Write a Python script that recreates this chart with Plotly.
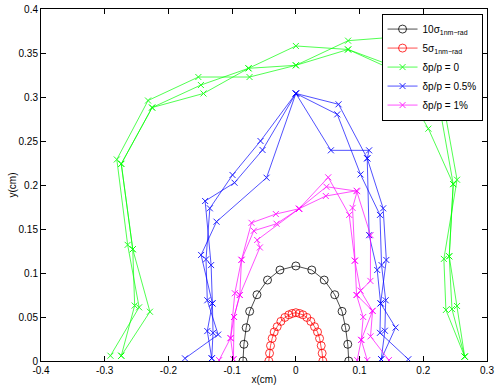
import plotly.graph_objects as go

# 10 sigma (1nm-rad) beam ellipse
sig10_x = [-0.083, -0.0815, -0.078, -0.0725, -0.061, -0.0445, -0.025, 0.0,
           0.025, 0.0445, 0.061, 0.0725, 0.078, 0.0815, 0.083]
sig10_y = [0.0, 0.019, 0.0378, 0.0564, 0.0753, 0.092, 0.1034, 0.108,
           0.1034, 0.092, 0.0753, 0.0564, 0.0378, 0.019, 0.0]

# 5 sigma (1nm-rad) beam ellipse
sig5_x = [-0.0424, -0.0413, -0.0398, -0.0372, -0.034, -0.0293, -0.0235, -0.0173, -0.011, -0.0058, 0.0,
          0.0058, 0.011, 0.0173, 0.0235, 0.0293, 0.034, 0.0372, 0.0398, 0.0413, 0.0424]
sig5_y = [0.0, 0.0088, 0.0174, 0.0257, 0.033, 0.039, 0.045, 0.0495, 0.0525, 0.054, 0.0549,
          0.054, 0.0525, 0.0495, 0.045, 0.039, 0.033, 0.0257, 0.0174, 0.0088, 0.0]

# dynamic aperture, dp/p = 0 (three seeds)
dp0_x = [
    [-0.274, -0.253, -0.256, -0.274, -0.2256, -0.149, -0.0743, 0.0, 0.082, 0.16, 0.226, 0.247, 0.2407, 0.245, 0.265],
    [-0.291, -0.246, -0.264, -0.281, -0.232, -0.153, -0.0727, 0.0, 0.082, 0.19, 0.231, 0.253, 0.2323, 0.2355, 0.265],
    [-0.274, -0.229, -0.256, -0.274, -0.2256, -0.145, -0.0743, 0.0, 0.082, 0.155, 0.208, 0.247, 0.2407, 0.253, 0.265],
]
dp0_y = [
    [0.006, 0.063, 0.127, 0.224, 0.288, 0.3136, 0.3326, 0.358, 0.354, 0.333, 0.287, 0.201, 0.119, 0.059, 0.005],
    [0.006, 0.061, 0.132, 0.229, 0.296, 0.3227, 0.3227, 0.336, 0.364, 0.37, 0.295, 0.206, 0.116, 0.058, 0.005],
    [0.006, 0.056, 0.127, 0.224, 0.288, 0.304, 0.3326, 0.336, 0.354, 0.33, 0.264, 0.201, 0.119, 0.0625, 0.005],
]

# dp/p = 0.5%
dp05_x = [
    [-0.132, -0.13, -0.131, -0.133, -0.1424, -0.0963, -0.0523, 0.0, 0.065, 0.1015, 0.132, 0.1345, 0.141, 0.1397, 0.134],
    [-0.174, -0.122, -0.139, -0.141, -0.135, -0.0994, -0.0555, 0.0, 0.067, 0.112, 0.137, 0.142, 0.133, 0.132, 0.1765],
    [-0.132, -0.139, -0.131, -0.1487, -0.1245, -0.046, 0.0, 0.055, 0.115, 0.112, 0.115, 0.1277, 0.133, 0.1565, 0.134],
]
dp05_y = [
    [0.003, 0.032, 0.0655, 0.109, 0.1818, 0.2026, 0.2398, 0.304, 0.2803, 0.212, 0.166, 0.109, 0.069, 0.0344, 0.002],
    [0.003, 0.030, 0.069, 0.1155, 0.1735, 0.2114, 0.25, 0.304, 0.2917, 0.2303, 0.1735, 0.1148, 0.0655, 0.032, 0.002],
    [0.003, 0.034, 0.0655, 0.1205, 0.1583, 0.2083, 0.304, 0.2394, 0.2394, 0.2303, 0.143, 0.1034, 0.0655, 0.038, 0.002],
]

# dp/p = 1%
dp1_x = [
    [-0.098, -0.1025, -0.097, -0.088, -0.0853, -0.0696, -0.0314, 0.005, 0.048, 0.0963, 0.089, 0.0926, 0.0953, 0.1057, 0.1026, 0.112],
    [-0.1204, -0.1025, -0.0958, -0.0853, -0.066, -0.0303, 0.005, 0.0508, 0.0837, 0.0926, 0.1015, 0.1204, 0.1172, 0.146],
    [-0.098, -0.097, -0.088, -0.0565, -0.0607, 0.005, 0.047, 0.0953, 0.1172, 0.117, 0.0953, 0.1204, 0.1026, 0.0963],
]
dp1_y = [
    [0.002, 0.026, 0.050, 0.075, 0.115, 0.157, 0.167, 0.173, 0.198, 0.193, 0.174, 0.114, 0.075, 0.050, 0.024, 0.001],
    [0.001, 0.026, 0.077, 0.115, 0.148, 0.156, 0.173, 0.2087, 0.166, 0.114, 0.08, 0.057, 0.028, 0.001],
    [0.002, 0.05, 0.075, 0.129, 0.1375, 0.173, 0.1875, 0.1935, 0.143, 0.091, 0.075, 0.057, 0.024, 0.001],
]

x_ticks = [-0.4, -0.3, -0.2, -0.1, 0, 0.1, 0.2, 0.3]
x_labels = ['-0.4', '-0.3', '-0.2', '-0.1', '0', '0.1', '0.2', '0.3']
y_ticks = [0, 0.05, 0.1, 0.15, 0.2, 0.25, 0.3, 0.35, 0.4]
y_labels = ['0', '0.05', '0.1', '0.15', '0.2', '0.25', '0.3', '0.35', '0.4']

fig = go.Figure()

fig.add_trace(go.Scatter(x=sig10_x, y=sig10_y, mode='lines+markers', name='10σ<sub>1nm−rad</sub>',
                         line=dict(color='black', width=0.7),
                         marker=dict(symbol='circle-open', size=8, color='black', line=dict(width=0.8))))
fig.add_trace(go.Scatter(x=sig5_x, y=sig5_y, mode='lines+markers', name='5σ<sub>1nm−rad</sub>',
                         line=dict(color='red', width=0.7),
                         marker=dict(symbol='circle-open', size=8, color='red', line=dict(width=0.8))))

groups = [
    ('δp/p = 0', '#00ff00', dp0_x, dp0_y),
    ('δp/p = 0.5%', '#0000ff', dp05_x, dp05_y),
    ('δp/p = 1%', '#ff00ff', dp1_x, dp1_y),
]
for name, col, xs, ys in groups:
    for i in range(len(xs)):
        fig.add_trace(go.Scatter(x=xs[i], y=ys[i], mode='lines+markers', name=name,
                                 legendgroup=name, showlegend=(i == 0),
                                 line=dict(color=col, width=0.8), opacity=0.85,
                                 marker=dict(symbol='x-thin', size=6, color=col,
                                             line=dict(width=1, color=col))))

axis_style = dict(showgrid=False, zeroline=False, showline=True, mirror='ticks',
                  linecolor='black', linewidth=1, ticks='inside', ticklen=5,
                  tickcolor='black', tickfont=dict(size=10, color='black'),
                  automargin=False)

fig.update_xaxes(range=[-0.4, 0.3], tickvals=x_ticks, ticktext=x_labels,
                 title=dict(text='x(cm)', font=dict(size=10), standoff=0), **axis_style)
fig.update_yaxes(range=[0, 0.4], tickvals=y_ticks, ticktext=y_labels,
                 title=dict(text='y(cm)', font=dict(size=10), standoff=0), **axis_style)

fig.update_layout(
    width=498, height=390,
    margin=dict(l=41, r=11, t=9, b=29),
    plot_bgcolor='white', paper_bgcolor='white',
    font=dict(family='Liberation Sans, Arial, sans-serif', size=10, color='black'),
    legend=dict(x=0.99, y=0.987, xanchor='right', yanchor='top',
                bgcolor='white', bordercolor='black', borderwidth=1,
                font=dict(size=10), tracegroupgap=0, itemwidth=30),
)

# page body has a default margin; remove it so the figure sits at the corner
fig.write_html("out.html", config={'displayModeBar': False},
               post_script="document.body.style.margin='0';")
